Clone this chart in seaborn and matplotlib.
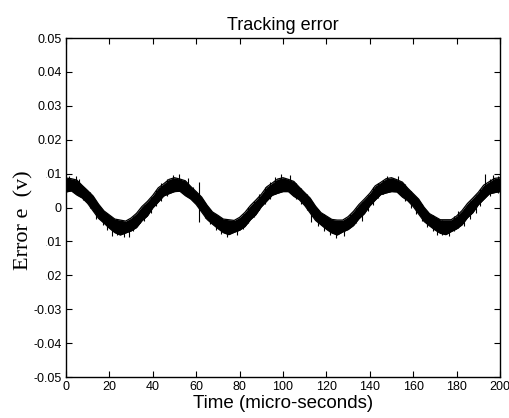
import numpy as np
import pandas as pd
import matplotlib
matplotlib.use("Agg")
import matplotlib.pyplot as plt
import seaborn as sns

# time axis (micro-seconds), band read every 2.5 us
time_us = [i * 2.5 for i in range(81)]

# upper / lower edge of the noisy error band (v)
band_upper = [
    0.0087, 0.0085, 0.0081, 0.0065, 0.0050, 0.0034, 0.0010, -0.0010, -0.0022, -0.0034,
    -0.0037, -0.0040, -0.0031, -0.0017, 0.0003, 0.0018, 0.0036, 0.0058, 0.0070, 0.0083,
    0.0088, 0.0084, 0.0079, 0.0062, 0.0047, 0.0031, 0.0007, -0.0013, -0.0023, -0.0034,
    -0.0036, -0.0038, -0.0029, -0.0014, 0.0006, 0.0022, 0.0039, 0.0061, 0.0072, 0.0084,
    0.0088, 0.0083, 0.0077, 0.0060, 0.0044, 0.0028, 0.0004, -0.0015, -0.0025, -0.0035,
    -0.0037, -0.0037, -0.0027, -0.0011, 0.0009, 0.0025, 0.0042, 0.0064, 0.0074, 0.0085,
    0.0088, 0.0082, 0.0075, 0.0057, 0.0041, 0.0025, 0.0001, -0.0018, -0.0027, -0.0036,
    -0.0036, -0.0036, -0.0025, -0.0009, 0.0012, 0.0028, 0.0045, 0.0066, 0.0076, 0.0086,
    0.0088,
]
band_lower = [
    0.0046, 0.0049, 0.0037, 0.0028, 0.0012, -0.0010, -0.0032, -0.0046, -0.0061, -0.0074,
    -0.0081, -0.0075, -0.0069, -0.0059, -0.0039, -0.0025, -0.0001, 0.0016, 0.0034, 0.0041,
    0.0047, 0.0048, 0.0035, 0.0025, 0.0009, -0.0013, -0.0035, -0.0049, -0.0062, -0.0074,
    -0.0080, -0.0073, -0.0067, -0.0056, -0.0036, -0.0021, 0.0002, 0.0019, 0.0036, 0.0042,
    0.0047, 0.0047, 0.0033, 0.0023, 0.0006, -0.0016, -0.0038, -0.0051, -0.0064, -0.0075,
    -0.0081, -0.0072, -0.0065, -0.0053, -0.0033, -0.0018, 0.0005, 0.0022, 0.0038, 0.0043,
    0.0047, 0.0046, 0.0031, 0.0020, 0.0003, -0.0019, -0.0041, -0.0054, -0.0066, -0.0076,
    -0.0080, -0.0071, -0.0063, -0.0051, -0.0030, -0.0015, 0.0008, 0.0024, 0.0040, 0.0044,
    0.0047,
]

# spikes sticking out of the band: time, low, high
spike_t = [1.5, 4.5, 6, 8, 11, 14, 17, 19, 21, 23.5, 26.5, 29, 31, 34, 36, 39, 41.5, 44,
           46.5, 49.5, 52, 56, 58.5, 61.5, 64, 66.5, 69, 71.5, 74, 79, 81.5, 84, 86.5,
           89, 91.5, 94, 96.5, 99, 103, 106, 108.5, 111, 113, 116, 119, 121.5, 124.5,
           128, 131, 133.5, 136.5, 139, 141.5, 144, 146, 148, 153, 156, 159, 161.5, 164,
           166.5, 169, 171, 173.5, 176.5, 179, 180.5, 183.5, 186, 189, 191, 193, 195.5,
           197, 199]
spike_lo = [0.0050, 0.0060, 0.0040, 0.0022, 0.0000, -0.0035, -0.0052, -0.0066, -0.0083,
            -0.0080, -0.0088, -0.0086, -0.0070, -0.0045, -0.0040, -0.0015, 0.0005, 0.0020,
            0.0035, 0.0060, 0.0060, 0.0050, 0.0018, -0.0042, -0.0030, -0.0050, -0.0065,
            -0.0078, -0.0087, -0.0082, -0.0063, -0.0045, -0.0028, -0.0008, 0.0010, 0.0025,
            0.0040, 0.0060, 0.0060, 0.0025, 0.0010, -0.0008, -0.0042, -0.0055, -0.0068,
            -0.0080, -0.0090, -0.0083, -0.0058, -0.0045, -0.0040, -0.0010, 0.0008, 0.0028,
            0.0040, 0.0060, 0.0055, 0.0020, 0.0000, -0.0020, -0.0040, -0.0058, -0.0070,
            -0.0082, -0.0080, -0.0083, -0.0068, -0.0060, -0.0055, -0.0035, -0.0015, 0.0005,
            0.0040, 0.0035, 0.0060, 0.0044]
spike_hi = [0.0092, 0.0094, 0.0085, 0.0050, 0.0045, 0.0005, -0.0012, -0.0025, -0.0050,
            -0.0035, -0.0060, -0.0060, -0.0025, -0.0020, 0.0008, 0.0032, 0.0052, 0.0072,
            0.0085, 0.0097, 0.0100, 0.0088, 0.0060, 0.0076, 0.0012, -0.0005, -0.0018,
            -0.0030, -0.0060, -0.0055, -0.0018, 0.0002, 0.0020, 0.0040, 0.0060, 0.0075,
            0.0090, 0.0100, 0.0095, 0.0072, 0.0058, 0.0040, 0.0005, -0.0005, -0.0020,
            -0.0032, -0.0060, -0.0055, -0.0020, -0.0002, 0.0015, 0.0038, 0.0060, 0.0072,
            0.0082, 0.0094, 0.0092, 0.0068, 0.0050, 0.0030, 0.0010, -0.0010, -0.0022,
            -0.0055, -0.0036, -0.0058, -0.0025, -0.0010, -0.0005, 0.0018, 0.0038, 0.0055,
            0.0100, 0.0085, 0.0095, 0.0092]

x_ticks = list(range(0, 201, 20))
y_ticks = [-0.05, -0.04, -0.03, -0.02, -0.01, 0, 0.01, 0.02, 0.03, 0.04, 0.05]

sns.set_theme(style="ticks")
plt.rcParams['font.family'] = ['Liberation Sans', 'DejaVu Sans']
plt.rcParams['text.color'] = 'black'

df = pd.DataFrame({"t": time_us, "upper": band_upper, "lower": band_lower})

fig = plt.figure(figsize=(5.1, 4.18), dpi=100)
ax = fig.add_axes([0.1294, 0.098, 0.8510, 0.8110])

ax.fill_between(df["t"], df["lower"], df["upper"], color="black", linewidth=0)
sns.lineplot(data=df, x="t", y="upper", color="black", linewidth=0.9, ax=ax)
sns.lineplot(data=df, x="t", y="lower", color="black", linewidth=0.9, ax=ax)
ax.vlines(spike_t, spike_lo, spike_hi, color="black", linewidth=0.8)

ax.set_xlim(0, 200)
ax.set_ylim(-0.05, 0.05)
ax.set_xticks(x_ticks)
ax.set_yticks(y_ticks)
ax.set_yticklabels(['%g' % v for v in y_ticks])

for side in ["top", "right", "left", "bottom"]:
    ax.spines[side].set_visible(True)
    ax.spines[side].set_color("black")
    ax.spines[side].set_linewidth(1.0)
ax.tick_params(direction="in", top=True, right=True, length=4, width=0.8,
               labelsize=9, colors="black", pad=3)

ax.set_title("Tracking error", fontsize=13, pad=6, color="black")
ax.set_xlabel("Time (micro-seconds)", fontsize=13.5, labelpad=1, color="black")
ax.set_ylabel("Error e  (v)", fontsize=16, family=["Liberation Serif", "DejaVu Serif"],
              va="center", color="black",
              bbox=dict(facecolor="white", edgecolor="none", pad=9))
ax.yaxis.set_label_coords(-0.098, 0.462)

fig.savefig("out.png", dpi=100)
